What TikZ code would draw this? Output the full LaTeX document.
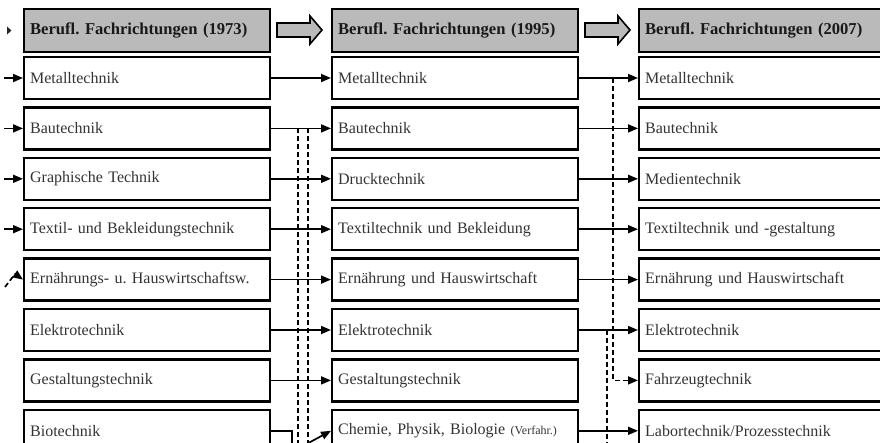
\documentclass[tikz,border=0pt]{standalone}
\usepackage{fontspec}
\setmainfont{Liberation Serif}
\usetikzlibrary{arrows.meta}
\frenchspacing
\begin{document}
\begin{tikzpicture}[x=1pt,y=-1pt,
  fbox/.style={draw, line width=2.3pt, minimum height=42pt, text width=234pt,
    inner xsep=6pt, align=left, anchor=west, text=black!80, font=\fontsize{16}{18}\selectfont},
  headbox/.style={fbox, fill=black!27, minimum height=43pt, text=black!90,
    font=\fontsize{16.6}{18}\selectfont\bfseries},
  link/.style={line width=1.7pt, -{Triangle[length=10pt,width=8pt]}},
  dlink/.style={link, dash pattern=on 5pt off 3pt},
  dline/.style={line width=1.7pt, dash pattern=on 5pt off 3pt},
  blockarrow/.style={draw, line width=1.6pt, fill=black!27, line join=miter}]
\useasboundingbox (0,0) rectangle (880,442);

% column headers
\node[headbox] (h1) at (23,30.5) {Berufl. Fachrichtungen (1973)};
\node[headbox] (h2) at (331,30.5) {Berufl. Fachrichtungen (1995)};
\node[headbox] (h3) at (638,30.5) {Berufl. Fachrichtungen (2007)};

% block arrows between the headers
\draw[blockarrow] (277,23) -- (310,23) -- (310,16) -- (322,30) -- (310,44) -- (310,37) -- (277,37) -- cycle;
\draw[blockarrow] (585,23) -- (618,23) -- (618,16) -- (630,30) -- (618,44) -- (618,37) -- (585,37) -- cycle;

% 1973
\node[fbox] (a1) at (23,78)    {Metalltechnik};
\node[fbox] (a2) at (23,128.4) {Bautechnik};
\node[fbox] (a3) at (23,178.8) {Graphische Technik};
\node[fbox] (a4) at (23,229.2) {Textil- und Bekleidungstechnik};
\node[fbox] (a5) at (23,279.6) {Ernährungs- u. Hauswirtschaftsw.};
\node[fbox] (a6) at (23,330)   {Elektrotechnik};
\node[fbox] (a7) at (23,380.4) {Gestaltungstechnik};
\node[fbox] (a8) at (23,430.8) {Biotechnik};

% 1995
\node[fbox] (b1) at (331,78)    {Metalltechnik};
\node[fbox] (b2) at (331,128.4) {Bautechnik};
\node[fbox] (b3) at (331,178.8) {Drucktechnik};
\node[fbox] (b4) at (331,229.2) {Textiltechnik und Bekleidung};
\node[fbox] (b5) at (331,279.6) {Ernährung und Hauswirtschaft};
\node[fbox] (b6) at (331,330)   {Elektrotechnik};
\node[fbox] (b7) at (331,380.4) {Gestaltungstechnik};
\node[fbox] (b8) at (331,430.8) {Chemie, Physik, Biologie {\fontsize{12}{14}\selectfont(Verfahr.)}};

% 2007
\node[fbox] (c1) at (638,78)    {Metalltechnik};
\node[fbox] (c2) at (638,128.4) {Bautechnik};
\node[fbox] (c3) at (638,178.8) {Medientechnik};
\node[fbox] (c4) at (638,229.2) {Textiltechnik und -gestaltung};
\node[fbox] (c5) at (638,279.6) {Ernährung und Hauswirtschaft};
\node[fbox] (c6) at (638,330)   {Elektrotechnik};
\node[fbox] (c7) at (638,380.4) {Fahrzeugtechnik};
\node[fbox] (c8) at (638,430.8) {Labortechnik/Prozesstechnik};

% incoming arrows on the left
\fill[black!85] (7,26.5) -- (11.5,30.5) -- (7,34.5) -- cycle;
\coordinate (in1) at (4,78);
\coordinate (in2) at (4,128.4);
\coordinate (in3) at (4,178.8);
\coordinate (in4) at (4,229.2);
\coordinate (in5) at (5,287);
\draw[link] (in1) -- (a1.west);
\draw[link] (in2) -- (a2.west);
\draw[link] (in3) -- (a3.west);
\draw[link] (in4) -- (a4.west);
\draw[dlink] (in5) .. controls (15,274) .. (a5.west);

% 1973 -> 1995
\draw[link] (a1.east) -- (b1.west);
\draw[link] (a2.east) -- (b2.west);
\draw[link] (a3.east) -- (b3.west);
\draw[link] (a4.east) -- (b4.west);
\draw[link] (a5.east) -- (b5.west);
\draw[link] (a6.east) -- (b6.west);
\draw[link] (a7.east) -- (b7.west);
\coordinate (bioout) at (292,452);
\draw[line width=1.7pt] (a8.east) -| (bioout);
\coordinate (chemin) at (301,447);
\draw[link] (chemin) -- (b8.west);
\coordinate (da) at (298,128.4);
\coordinate (dae) at (298,452);
\coordinate (db) at (308,128.4);
\coordinate (dbe) at (308,452);
\draw[dline] (da) -- (dae);
\draw[dline] (db) -- (dbe);

% 1995 -> 2007
\draw[link] (b1.east) -- (c1.west);
\draw[link] (b2.east) -- (c2.west);
\draw[link] (b3.east) -- (c3.west);
\draw[link] (b4.east) -- (c4.west);
\draw[link] (b5.east) -- (c5.west);
\draw[link] (b6.east) -- (c6.west);
\draw[link] (b8.east) -- (c8.west);
\coordinate (dm) at (613,78);
\draw[dlink] (dm) |- (c7.west);
\coordinate (de) at (607,330);
\coordinate (dee) at (607,452);
\draw[dline] (de) -- (dee);
\end{tikzpicture}
\end{document}
